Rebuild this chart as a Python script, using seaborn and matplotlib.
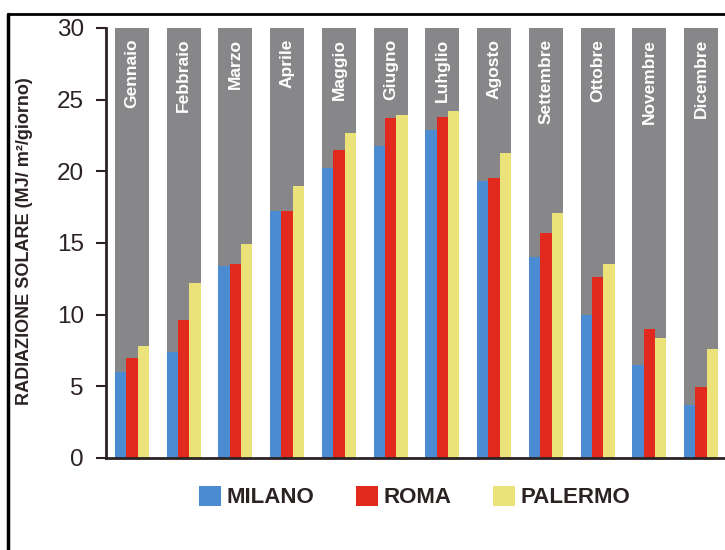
import matplotlib
matplotlib.use("Agg")
import matplotlib.pyplot as plt
from matplotlib.patches import Patch
from matplotlib.lines import Line2D
import seaborn as sns
import pandas as pd

# Daily solar radiation by month (MJ / m² / giorno)
mesi = ["Gennaio", "Febbraio", "Marzo", "Aprile", "Maggio", "Giugno",
        "Luhglio", "Agosto", "Settembre", "Ottobre", "Novembre", "Dicembre"]
citta = ["MILANO", "ROMA", "PALERMO"]
milano = [6.0, 7.4, 13.4, 17.2, 20.2, 21.8, 22.9, 19.3, 14.0, 10.0, 6.5, 3.7]
roma = [7.0, 9.6, 13.5, 17.2, 21.5, 23.7, 23.8, 19.5, 15.7, 12.6, 9.0, 4.95]
palermo = [7.8, 12.2, 14.9, 19.0, 22.7, 23.9, 24.2, 21.3, 17.1, 13.5, 8.4, 7.6]
scala_max = 30
y_ticks = [0, 5, 10, 15, 20, 25, 30]

colori = {"MILANO": "#4a8bd2", "ROMA": "#e2291d", "PALERMO": "#ebe27a"}
grigio = "#87878a"
scuro = "#2b2222"

df = pd.DataFrame({
    "mese": mesi * 3,
    "citta": [c for c in citta for _ in mesi],
    "valore": milano + roma + palermo,
})
sfondo = pd.DataFrame({"mese": mesi, "valore": [scala_max] * len(mesi)})

sns.set_theme(style="white")
plt.rcParams["font.family"] = ["Liberation Sans", "DejaVu Sans"]

fig = plt.figure(figsize=(7.25, 5.5), dpi=100)
ax = fig.add_axes([0.1462, 0.1673, 0.8566, 0.7818])

# grey month columns behind the coloured bars
sns.barplot(data=sfondo, x="mese", y="valore", color=grigio, width=0.66,
            saturation=1, ax=ax, zorder=1)
sns.barplot(data=df, x="mese", y="valore", hue="citta", hue_order=citta,
            palette=colori, width=0.66, saturation=1, dodge=True,
            legend=False, ax=ax, zorder=2)
for p in ax.patches:
    p.set_edgecolor("none")
    p.set_linewidth(0)

for i, m in enumerate(mesi):
    ax.text(i, scala_max - 0.75, m, rotation=90, ha="center", va="top",
            color="white", fontsize=12.5, fontweight="bold", zorder=3)

ax.set_xlim(-0.5, len(mesi) - 0.5)
ax.set_ylim(0, scala_max)
ax.set_yticks(y_ticks)
ax.set_yticklabels([str(t) for t in y_ticks], fontsize=17.5, color=scuro)
ax.set_xticks([])
ax.set_xlabel("")
ax.set_ylabel("RADIAZIONE SOLARE (MJ/ m²/giorno)", fontsize=13,
              fontweight="bold", color=scuro)
ax.yaxis.set_label_coords(-0.118, 0.505)
ax.tick_params(axis="y", left=True, length=7, width=1.5, color=scuro, pad=9)
for s in ["top", "right"]:
    ax.spines[s].set_visible(False)
for s in ["left", "bottom"]:
    ax.spines[s].set_color(scuro)
    ax.spines[s].set_linewidth(2)
ax.set_facecolor("white")

handles = [Patch(facecolor=colori[c], edgecolor="none", label=c) for c in citta]
leg = fig.legend(handles=handles, loc="center", bbox_to_anchor=(0.572, 0.0964),
                 ncol=3, frameon=False, prop={"size": 16, "weight": "bold"},
                 handlelength=1.0, handleheight=1.0, handletextpad=0.25,
                 columnspacing=1.85, labelcolor=scuro)

# outer frame (top and left rules)
fig.add_artist(Line2D([0.011, 1.0], [0.975, 0.975], color="black", lw=2,
                      transform=fig.transFigure))
fig.add_artist(Line2D([0.011, 0.011], [0.0, 0.975], color="black", lw=2.5,
                      transform=fig.transFigure))

fig.savefig("out.png", dpi=100, facecolor="white")
